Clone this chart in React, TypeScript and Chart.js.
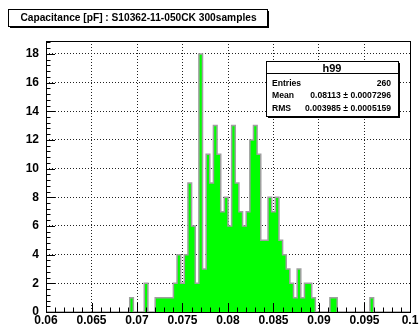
import React, { useEffect, useRef } from "react";
import { Chart, registerables } from "chart.js";

Chart.register(...registerables);

// ---- data ----
const xMin = 0.06;
const xMax = 0.1;
const binWidth = 0.0004;
const counts = [
  0, 0, 0, 0, 0, 0, 0, 0, 0, 0,
  0, 0, 0, 0, 0, 0, 0, 0, 0, 0,
  0, 0, 0, 0, 1, 0, 0, 0, 2, 0,
  0, 1, 1, 1, 1, 1, 2, 4, 2, 4,
  9, 6, 2, 18, 3, 11, 9, 13, 11, 7,
  8, 6, 13, 9, 7, 6, 7, 12, 13, 11,
  5, 5, 8, 7, 8, 5, 4, 3, 2, 1,
  3, 1, 2, 2, 1, 0, 0, 0, 0, 1,
  1, 0, 0, 0, 0, 0, 0, 0, 0, 0,
  1, 0, 0, 0, 0, 0, 0, 0, 0, 0,
];
const xTicks = [0.06, 0.065, 0.07, 0.075, 0.08, 0.085, 0.09, 0.095, 0.1];
const xMinorStep = 0.001;
const yTicks = [0, 2, 4, 6, 8, 10, 12, 14, 16, 18];
const yMinorStep = 0.4;
const yMax = 18.9;
const titleText = "Capacitance [pF] : S10362-11-050CK 300samples";
const statsName = "h99";
const statsLabels = ["Entries", "Mean", "RMS"];
const statsValues = ["260", "0.08113 \u00b1 0.0007296", "0.003985 \u00b1 0.0005159"];

const FONT = "'Liberation Sans', Arial, Helvetica, sans-serif";

const rootPlugin = {
  id: "rootStyle",
  afterDatasetsDraw(chart: any) {
    const { ctx, chartArea } = chart;
    const xs = chart.scales.x;
    const ys = chart.scales.y;
    const { left, right, top, bottom } = chartArea;
    ctx.save();
    ctx.strokeStyle = "#000";
    ctx.lineWidth = 1;
    // ticks
    ctx.beginPath();
    const nx = Math.round((xMax - xMin) / xMinorStep);
    for (let i = 0; i <= nx; i++) {
      const v = xMin + i * xMinorStep;
      const isMajor = xTicks.some((t) => Math.abs(t - v) < 1e-9);
      const px = Math.round(xs.getPixelForValue(v)) + 0.5;
      const len = isMajor ? 9 : 4.5;
      ctx.moveTo(px, bottom);
      ctx.lineTo(px, bottom - len);
    }
    const ny = Math.floor(yMax / yMinorStep + 1e-9);
    for (let i = 0; i <= ny; i++) {
      const v = i * yMinorStep;
      const isMajor = yTicks.some((t) => Math.abs(t - v) < 1e-9);
      const py = Math.round(ys.getPixelForValue(v)) + 0.5;
      const len = isMajor ? 9 : 4.5;
      ctx.moveTo(left, py);
      ctx.lineTo(left + len, py);
    }
    ctx.stroke();
    // frame
    ctx.strokeRect(Math.round(left) + 0.5, Math.round(top) + 0.5, Math.round(right - left), Math.round(bottom - top));
    ctx.restore();
  },
  afterDraw(chart: any) {
    const { ctx } = chart;
    ctx.save();
    // title box
    const tx = 8, ty = 9, tw = 259, th = 17;
    ctx.fillStyle = "#000";
    ctx.fillRect(tx + 2, ty + 2, tw, th);
    ctx.fillStyle = "#fff";
    ctx.fillRect(tx, ty, tw, th);
    ctx.strokeStyle = "#000";
    ctx.lineWidth = 1;
    ctx.strokeRect(tx + 0.5, ty + 0.5, tw, th);
    ctx.fillStyle = "#000";
    ctx.font = `bold 10.2px ${FONT}`;
    ctx.textBaseline = "alphabetic";
    ctx.textAlign = "center";
    ctx.fillText(titleText, tx + tw / 2 + 1, 20.8);

    // stats box
    const bx = 266, by = 61, bw = 132, bh = 55;
    ctx.fillStyle = "#000";
    ctx.fillRect(bx + 2, by + 2, bw, bh);
    ctx.fillStyle = "#fff";
    ctx.fillRect(bx, by, bw, bh);
    ctx.strokeStyle = "#000";
    ctx.strokeRect(bx + 0.5, by + 0.5, bw, bh);
    ctx.beginPath();
    ctx.moveTo(bx, 73.5);
    ctx.lineTo(bx + bw, 73.5);
    ctx.stroke();
    ctx.fillStyle = "#000";
    ctx.font = `bold 11px ${FONT}`;
    ctx.textAlign = "center";
    ctx.textBaseline = "alphabetic";
    ctx.fillText(statsName, bx + bw / 2, 71.5);
    ctx.font = `bold 8.6px ${FONT}`;
    const rowY = [85.5, 97.5, 110.5];
    statsLabels.forEach((lab, i) => {
      ctx.textAlign = "left";
      ctx.fillText(lab, bx + 6, rowY[i]);
      ctx.textAlign = "right";
      ctx.fillText(statsValues[i], bx + bw - 7, rowY[i]);
    });
    ctx.restore();
  },
};

export default function App() {
  const ref = useRef<HTMLCanvasElement | null>(null);
  useEffect(() => {
    document.body.style.margin = "0";
    const canvas = ref.current!;
    const points = counts.map((c, i) => ({ x: xMin + i * binWidth, y: c }));
    points.push({ x: xMax, y: counts[counts.length - 1] });
    const tickFont = { family: FONT, size: 12, weight: "bold" as const };
    const chart = new Chart(canvas, {
      type: "line",
      data: {
        datasets: [
          {
            data: points,
            stepped: "after",
            fill: "origin",
            backgroundColor: "#00ff00",
            borderColor: "#a0a0a0",
            borderWidth: 1.5,
            pointRadius: 0,
          } as any,
        ],
      },
      options: {
        animation: false,
        responsive: false,
        devicePixelRatio: 1,
        layout: { padding: { top: 41, right: 9, left: 0, bottom: 0 } },
        plugins: { legend: { display: false }, tooltip: { enabled: false }, title: { display: false } },
        scales: {
          x: {
            type: "linear",
            min: xMin,
            max: xMax,
            afterBuildTicks: (s: any) => {
              s.ticks = xTicks.map((v) => ({ value: v }));
            },
            afterFit: (s: any) => {
              s.height = 19;
              s.paddingLeft = 0;
              s.paddingRight = 0;
            },
            ticks: {
              font: tickFont,
              color: "#000",
              padding: 1,
              maxRotation: 0,
              autoSkip: false,
              callback: (v: any) => String(parseFloat(Number(v).toFixed(4))),
            },
            grid: { color: "#222", lineWidth: 1, drawTicks: false },
            border: { display: false, dash: [1, 2] },
          },
          y: {
            type: "linear",
            min: 0,
            max: yMax,
            afterBuildTicks: (s: any) => {
              s.ticks = yTicks.map((v) => ({ value: v }));
            },
            afterFit: (s: any) => {
              s.width = 46;
              s.paddingTop = 0;
              s.paddingBottom = 0;
            },
            ticks: {
              font: tickFont,
              color: "#000",
              padding: 7,
              autoSkip: false,
              callback: (v: any) => String(v),
            },
            grid: { color: "#222", lineWidth: 1, drawTicks: false },
            border: { display: false, dash: [1, 2] },
          },
        },
      },
      plugins: [rootPlugin],
    });
    return () => chart.destroy();
  }, []);
  return (
    <div style={{ position: "absolute", left: 0, top: 0, width: 419, height: 331, background: "#fff" }}>
      <canvas ref={ref} width={419} height={331} style={{ width: 419, height: 331, display: "block" }} />
    </div>
  );
}
